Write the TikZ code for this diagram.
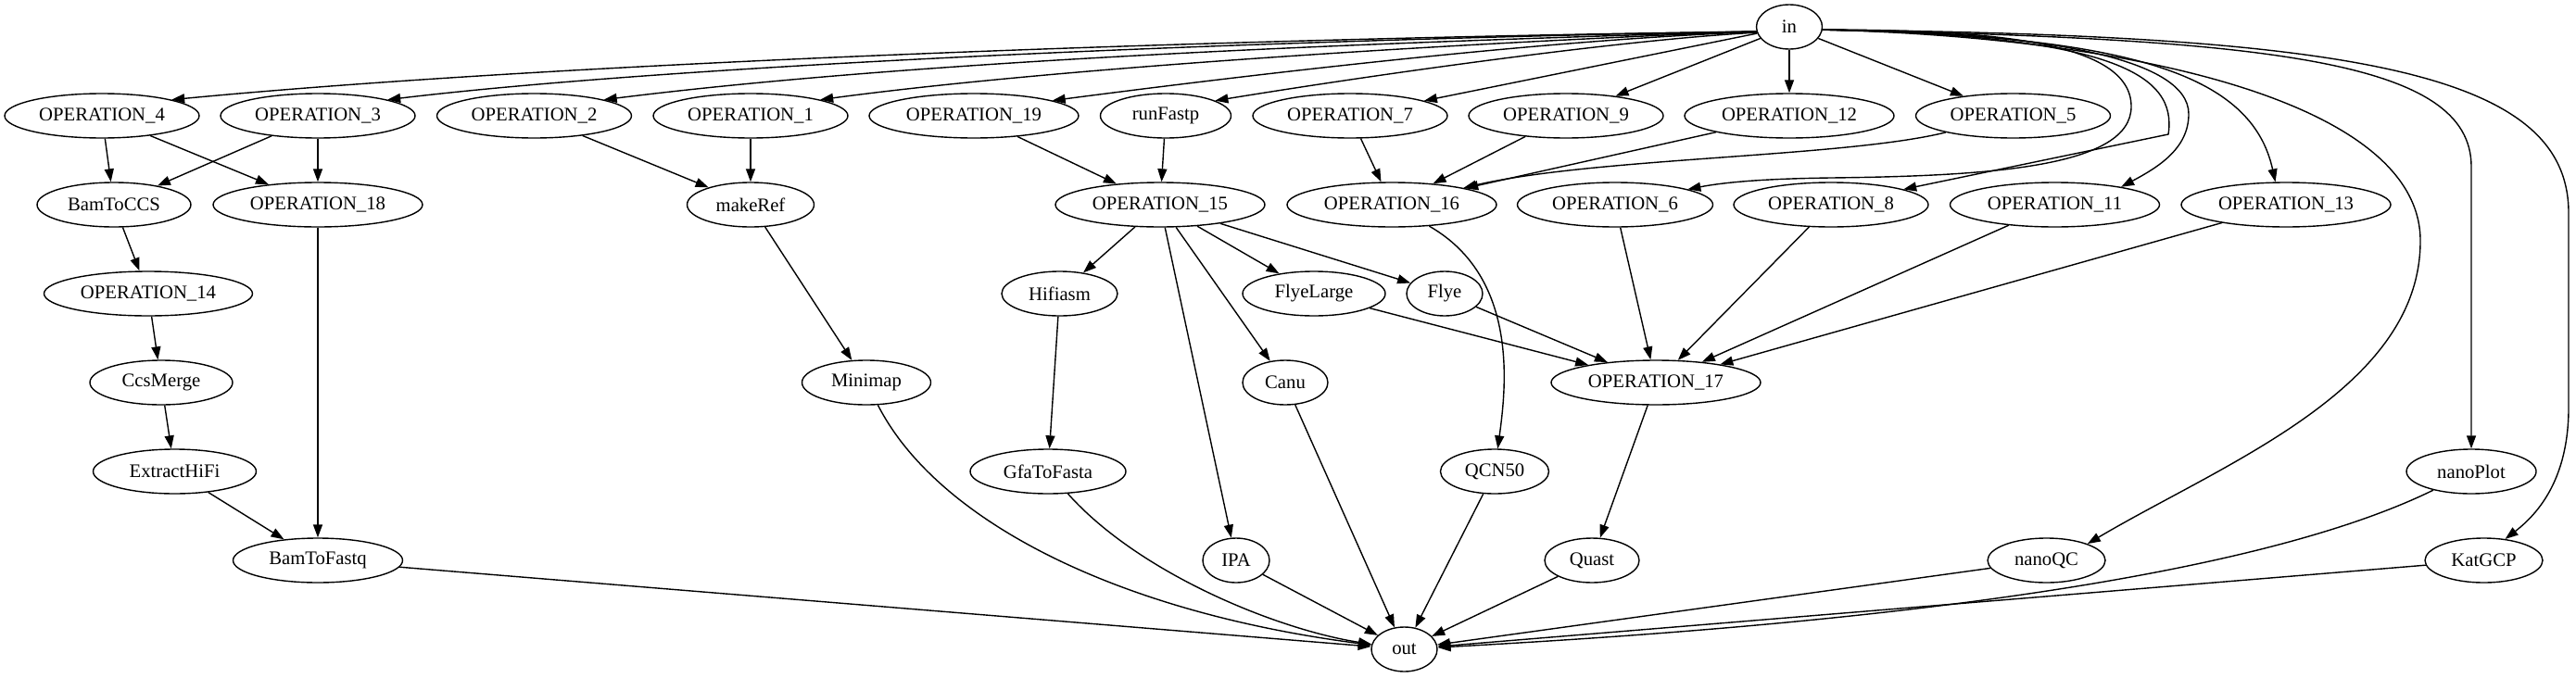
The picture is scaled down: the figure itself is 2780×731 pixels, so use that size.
\documentclass[tikz,border=0pt]{standalone}
\usepackage{fontspec}
\setmainfont{Liberation Serif}
\usetikzlibrary{arrows.meta,shapes.geometric}
\begin{document}
\begin{tikzpicture}[x=1pt,y=-1pt,
  nd/.style={draw,ellipse,line width=1.4pt,inner sep=0pt,minimum height=48pt,font=\fontsize{20.7}{24}\selectfont},
  conn/.style={draw,line width=1.4pt,-{Triangle[length=14pt,width=10pt]}},
  connplain/.style={draw,line width=1.4pt}]
\useasboundingbox (0,0) rectangle (2780,731);
% rank 0
\node[nd,minimum width=71pt] (in) at (1931,29) {in};
% rank 1
\node[nd,minimum width=210pt] (op4) at (110,125) {OPERATION\_4};
\node[nd,minimum width=210pt] (op3) at (343,125) {OPERATION\_3};
\node[nd,minimum width=210pt] (op2) at (576.5,125) {OPERATION\_2};
\node[nd,minimum width=210pt] (op1) at (810,125) {OPERATION\_1};
\node[nd,minimum width=226pt] (op19) at (1051,125) {OPERATION\_19};
\node[nd,minimum width=141pt] (runfastp) at (1258,125) {runFastp};
\node[nd,minimum width=210pt] (op7) at (1457,125) {OPERATION\_7};
\node[nd,minimum width=210pt] (op9) at (1690,125) {OPERATION\_9};
\node[nd,minimum width=226pt] (op12) at (1931,125) {OPERATION\_12};
\node[nd,minimum width=210pt] (op5) at (2172.5,125) {OPERATION\_5};
% rank 2
\node[nd,minimum width=166pt] (bamccs) at (123,221) {BamToCCS};
\node[nd,minimum width=226pt] (op18) at (343,221) {OPERATION\_18};
\node[nd,minimum width=137pt] (makeref) at (810,221) {makeRef};
\node[nd,minimum width=226pt] (op15) at (1252,221) {OPERATION\_15};
\node[nd,minimum width=226pt] (op16) at (1502,221) {OPERATION\_16};
\node[nd,minimum width=211pt] (op6) at (1743,221) {OPERATION\_6};
\node[nd,minimum width=210pt] (op8) at (1976,221) {OPERATION\_8};
\node[nd,minimum width=226pt] (op11) at (2217.5,221) {OPERATION\_11};
\node[nd,minimum width=226pt] (op13) at (2467,221) {OPERATION\_13};
% rank 3
\node[nd,minimum width=225pt] (op14) at (160,317) {OPERATION\_14};
\node[nd,minimum width=125pt] (hifiasm) at (1143.5,317) {Hifiasm};
\node[nd,minimum width=154pt] (flyelarge) at (1418,317) {FlyeLarge};
\node[nd,minimum width=82pt] (flye) at (1559,317) {Flye};
% rank 4
\node[nd,minimum width=154pt] (ccsmerge) at (174,413) {CcsMerge};
\node[nd,minimum width=139pt] (minimap) at (935,413) {Minimap};
\node[nd,minimum width=92pt] (canu) at (1387,413) {Canu};
\node[nd,minimum width=226pt] (op17) at (1787,413) {OPERATION\_17};
% rank 5
\node[nd,minimum width=176pt] (extracthifi) at (188.5,509) {ExtractHiFi};
\node[nd,minimum width=168pt] (gfatofasta) at (1131,509) {GfaToFasta};
\node[nd,minimum width=117pt] (qcn50) at (1613,509) {QCN50};
\node[nd,minimum width=140pt] (nanoplot) at (2667,509) {nanoPlot};
% rank 6
\node[nd,minimum width=183pt] (bamtofastq) at (343,605) {BamToFastq};
\node[nd,minimum width=72pt] (ipa) at (1334,605) {IPA};
\node[nd,minimum width=102pt] (quast) at (1718,605) {Quast};
\node[nd,minimum width=127pt] (nanoqc) at (2208.5,605) {nanoQC};
\node[nd,minimum width=127pt] (katgcp) at (2680.5,605) {KatGCP};
% rank 7
\node[nd,minimum width=71pt] (out) at (1515.5,701) {out};

% in -> rank 1 (left side)
\draw[conn] (in.188) .. controls (1300,42) and (600,68) .. (op4.13);
\draw[conn] (in.188) .. controls (1400,42) and (750,68) .. (op3.13);
\draw[conn] (in.188) .. controls (1500,45) and (1000,64) .. (op2.13);
\draw[conn] (in.188) .. controls (1600,45) and (1150,72) .. (op1.13);
\draw[conn] (in.189) .. controls (1680,42) and (1370,78) .. (op19.11);
\draw[conn] (in.190) .. controls (1760,42) and (1500,78) .. (runfastp.17);
\draw[conn] (in) -- (op7);
\draw[conn] (in) -- (op9);
\draw[conn] (in) -- (op12);
\draw[conn] (in) -- (op5);
% in -> right side loops
\draw[conn] (in.-5) .. controls (2150,32) and (2300,45) .. (2300,115)
  .. controls (2300,180) and (2150,190) .. (1976,192)
  .. controls (1900,193) and (1860,197) .. (op6.12);
\draw[conn] (in.-5) .. controls (2280,38) and (2350,80) .. (2340,145) -- (op8.12);
\draw[conn] (in.-5) .. controls (2200,34) and (2362,62) .. (2362,123)
  .. controls (2362,160) and (2330,180) .. (op11.15);
\draw[conn] (in.-5) .. controls (2300,38) and (2430,80) .. (op13.115);
\draw[conn] (in.-5) .. controls (2300,40) and (2612,110) .. (2612,260)
  .. controls (2612,420) and (2400,500) .. (nanoqc.22);
\draw[conn] (in.-5) .. controls (2450,42) and (2667,65) .. (2667,180) -- (nanoplot);
\draw[conn] (in.-5) .. controls (2550,38) and (2772,80) .. (2772,230) -- (2772,440)
  .. controls (2772,510) and (2745,550) .. (katgcp.45);

% rank 1 -> rank 2
\draw[conn] (op4) -- (bamccs);
\draw[conn] (op4) -- (op18);
\draw[conn] (op3) -- (bamccs);
\draw[conn] (op3) -- (op18);
\draw[conn] (op2) -- (makeref);
\draw[conn] (op1) -- (makeref);
\draw[conn] (op19) -- (op15);
\draw[conn] (runfastp) -- (op15);
\draw[conn] (op7) -- (op16);
\draw[conn] (op9) -- (op16);
\draw[conn] (op12) -- (op16);
\draw[conn] (op5) .. controls (1990,170) and (1720,170) .. (op16);

% left chain
\draw[conn] (bamccs) -- (op14);
\draw[conn] (op14) -- (ccsmerge);
\draw[conn] (ccsmerge) -- (extracthifi);
\draw[conn] (extracthifi) -- (bamtofastq);
\draw[conn] (op18) -- (bamtofastq);
\draw[conn] (makeref) -- (minimap);

% OPERATION_15 fan
\draw[conn] (op15) -- (hifiasm);
\draw[conn] (op15) -- (flyelarge);
\draw[conn] (op15) -- (flye);
\draw[conn] (op15) -- (canu);
\draw[conn] (op15) -- (ipa);
\draw[conn] (hifiasm) -- (gfatofasta);
\draw[conn] (op16) .. controls (1640,300) and (1625,420) .. (qcn50);

% into OPERATION_17
\draw[conn] (flyelarge) -- (op17);
\draw[conn] (flye) -- (op17);
\draw[conn] (op6) -- (op17);
\draw[conn] (op8) -- (op17);
\draw[conn] (op11) -- (op17);
\draw[conn] (op13) -- (op17);
\draw[conn] (op17) -- (quast);

% into out
\draw[conn] (bamtofastq) -- (out);
\draw[conn] (minimap) .. controls (1010,560) and (1200,660) .. (out);
\draw[conn] (gfatofasta) .. controls (1230,620) and (1380,680) .. (out);
\draw[conn] (ipa) -- (out);
\draw[conn] (canu) -- (out);
\draw[conn] (qcn50) -- (out);
\draw[conn] (quast) -- (out);
\draw[conn] (nanoqc) -- (out);
\draw[conn] (nanoplot) .. controls (2400,640) and (1900,680) .. (out);
\draw[conn] (katgcp) -- (out);
\end{tikzpicture}
\end{document}
